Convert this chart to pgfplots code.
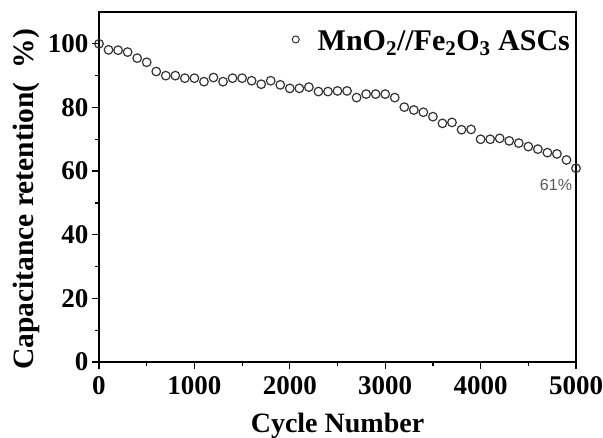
\documentclass[border=0pt]{standalone}
\usepackage{pgfplots}
\pgfplotsset{compat=1.18}
\usepackage{fontspec}
\setmainfont{Liberation Serif}
\newfontfamily\sansf{Liberation Sans}
\pgfplotstableread{
x y
0 100
100 98.1
200 98
300 97.4
400 95.5
500 94.2
600 91.3
700 90
800 90
900 89.2
1000 89.2
1100 88.1
1200 89.4
1300 88.1
1400 89.2
1500 89.2
1600 88.4
1700 87.3
1800 88.4
1900 87.1
2000 86
2100 86
2200 86.4
2300 85
2400 85
2500 85.2
2600 85.2
2700 83.1
2800 84.2
2900 84.2
3000 84.2
3100 83.1
3200 80.1
3300 79.2
3400 78.5
3500 77.1
3600 75
3700 75.3
3800 73
3900 73.1
4000 70
4100 70
4200 70.3
4300 69.5
4400 68.8
4500 67.7
4600 66.9
4700 65.8
4800 65.4
4900 63.5
5000 60.9
}\datatable
\begin{document}
\begin{tikzpicture}
\begin{axis}[
  scale only axis,
  width=477pt, height=350pt,
  xmin=0, xmax=5000, ymin=0, ymax=110,
  xtick={0,1000,...,5000}, ytick={0,20,...,100},
  minor xtick={500,1500,...,4500}, minor ytick={10,30,...,90},
  tick align=outside, tick pos=left,
  major tick length=7pt, minor tick length=4pt,
  every tick/.style={line width=1.2pt, black},
  axis line style={line width=1.6pt},
  /pgf/number format/assume math mode=true,
  /pgf/number format/1000 sep={},
  ticklabel style={font=\fontsize{27}{30}\selectfont\bfseries},
  xticklabel style={yshift=-4pt},
  xlabel={Cycle Number},
  ylabel={Capacitance retention(\ \ \%)},
  label style={font=\fontsize{28}{32}\selectfont\bfseries},
  xlabel style={at={(axis description cs:0.5,0)}, anchor=base, yshift=-70pt},
  ylabel style={at={(axis description cs:-0.152,0.465)}, anchor=center, font=\fontsize{29.5}{33}\selectfont\bfseries},
  legend style={draw=none, fill=none, at={(axis description cs:0.998,0.96)}, anchor=north east,
    font=\fontsize{30}{34}\selectfont\bfseries},
  legend image code/.code={\path[draw=none] (0cm,0cm) -- (0.75cm,0cm); \draw[black!80, line width=1pt] (0.05cm,0.05cm) circle (3.5pt);},
  legend cell align=left,
]
\addplot[only marks, mark=o, mark size=4.3pt, black!80, mark options={line width=1.2pt}] table[x=x,y=y] {\datatable};
\addlegendentry{MnO\textsubscript{2}//Fe\textsubscript{2}O\textsubscript{3} ASCs}
\node[font=\sansf\fontsize{16}{18}\selectfont, text=black!65] at (axis cs:4790,55.5) {61\%};
\end{axis}
\pgfresetboundingbox
\path[use as bounding box] ([xshift=-99pt,yshift=-75pt]current axis.south west) rectangle ([xshift=27pt,yshift=12pt]current axis.north east);
\end{tikzpicture}
\end{document}
